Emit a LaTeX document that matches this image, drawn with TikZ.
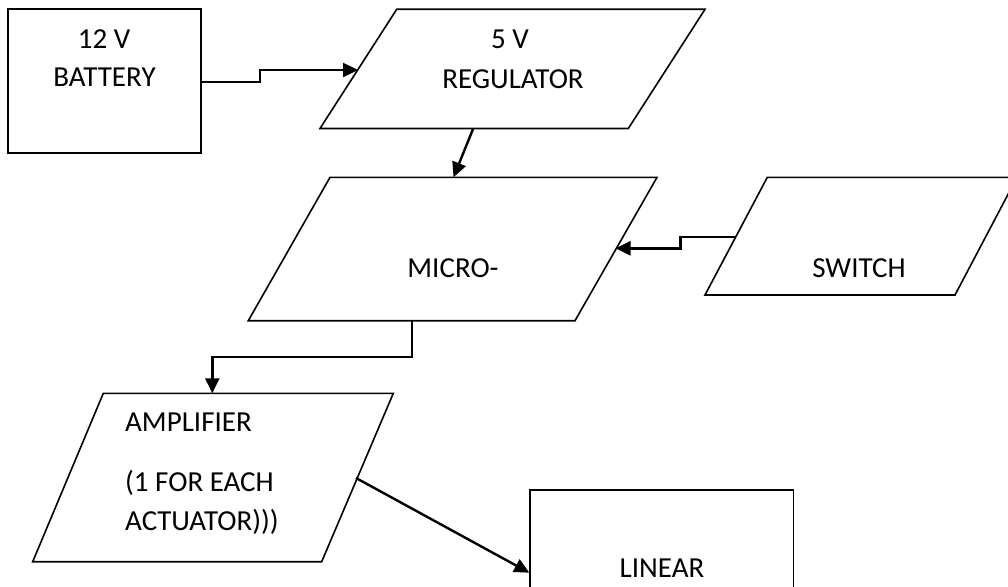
\documentclass[tikz,border=0pt]{standalone}
\usepackage{fontspec}
\setmainfont{Carlito}
\usetikzlibrary{arrows.meta}
\begin{document}
\begin{tikzpicture}[x=1pt,y=-1pt,
  shapeline/.style={draw=black,line width=1.6pt,line join=miter},
  arr/.style={draw=black,line width=2.4pt,-{Triangle[length=15pt,width=14pt]}},
  lbl/.style={font=\fontsize{29}{34}\selectfont,inner sep=0pt,anchor=base},
  lbll/.style={lbl,anchor=base west}]
\clip (0,0) rectangle (1008,586);
\fill[white] (0,0) rectangle (1008,586);
% shapes
\draw[shapeline] (8,9) rectangle (201,153);
\draw[shapeline] (396.7,9.3) -- (705,9.3) -- (628.3,128.5) -- (320,128.5) -- cycle;
\draw[shapeline] (330,177.3) -- (657,177.3) -- (575,320.7) -- (248.3,320.7) -- cycle;
\draw[shapeline] (767.3,177.3) -- (1017,177.3) -- (955,295) -- (705,295) -- cycle;
\draw[shapeline] (103.3,393.3) -- (393.3,393.3) -- (321.7,561.7) -- (32.7,561.7) -- cycle;
\draw[shapeline] (530,600) -- (530,490) -- (793.3,490) -- (793.3,600);
% texts
\node[lbl] (t12v) at (104,48.3) {12 V};
\node[lbl] (tbat) at (104.5,86) {BATTERY};
\node[lbl] (t5v) at (510,48.3) {5 V};
\node[lbl] (treg) at (513,88) {REGULATOR};
\node[lbl] (tmic) at (453,277) {MICRO-};
\node[lbl] (tsw) at (859,277) {SWITCH};
\node[lbll] (tamp) at (125,431.7) {AMPLIFIER};
\node[lbll] (tone) at (125,491.7) {(1 FOR EACH};
\node[lbll] (tact) at (125,530) {ACTUATOR)))};
\node[lbl] (tlin) at (662,577) {LINEAR};
% connection points
\coordinate (batR) at (201,82);
\coordinate (regIn) at (358,70);
\coordinate (regOut) at (473,129);
\coordinate (micTop) at (453.5,177.3);
\coordinate (swIn) at (735.6,236.7);
\coordinate (micIn) at (615.5,248.3);
\coordinate (micOut) at (411.7,320.7);
\coordinate (ampIn) at (212.3,393.3);
\coordinate (ampOut) at (356,478);
\coordinate (linIn) at (529.3,572.7);
% connectors
\draw[arr] (batR) -- ++(59,0) |- (regIn);
\draw[arr] (regOut) -- (micTop);
\draw[arr] (swIn) -- ++(-55,0) |- (micIn);
\draw[arr] (micOut) -- ++(0,36) -| (ampIn);
\draw[arr] (ampOut) -- (linIn);
\end{tikzpicture}
\end{document}
